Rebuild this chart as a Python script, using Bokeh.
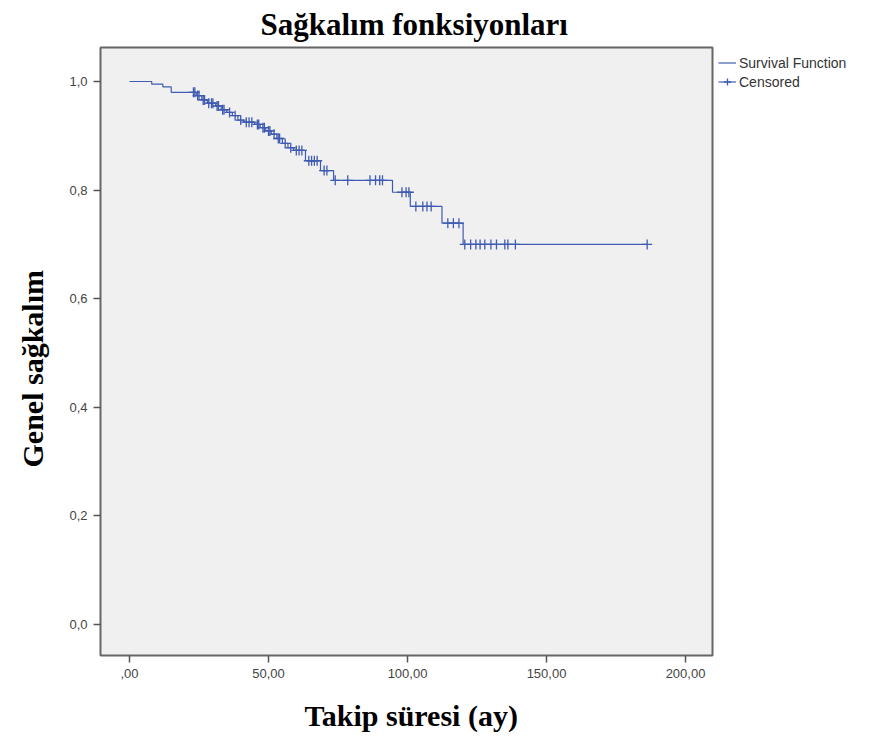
from bokeh.plotting import figure
from bokeh.models import Range1d, FixedTicker, Legend, LegendItem, Title
from bokeh.embed import file_html
from bokeh.resources import INLINE

# Kaplan-Meier event steps (time in months, survival after the step)
event_times = [8, 12, 15, 24, 26, 28, 31, 33, 35, 37, 39, 41, 45, 47, 49, 51,
               53, 55, 57, 59, 63.3, 68.7, 73.4, 94.6, 101, 112.4, 120]
survival = [0.995, 0.990, 0.980, 0.974, 0.966, 0.960, 0.955, 0.948, 0.943,
            0.937, 0.929, 0.925, 0.921, 0.915, 0.909, 0.903, 0.895, 0.886,
            0.878, 0.873, 0.854, 0.836, 0.818, 0.796, 0.770, 0.739, 0.700]

# censored observations (months)
censored_times = [23, 23.5, 24.5, 25, 26.5, 27, 28.5, 29.5, 30, 31.5, 32, 33.5,
                  34, 36, 38, 40, 42, 43, 44, 46, 46.5, 48, 48.5, 50, 50.5, 52,
                  53.5, 54, 56, 58, 60, 61, 62, 64.5, 65.5, 66.5, 67.5, 70, 71,
                  74, 78.5, 86.5, 88.5, 90, 91, 98, 99.5, 100.5, 103, 105.5,
                  107, 108.5, 114.5, 116.5, 118.5, 120.6, 122.7, 124.6, 126.1,
                  127.8, 130, 132, 135, 136.1, 138.8, 186.2]

x_ticks = [0, 50, 100, 150, 200]
x_tick_labels = [",00", "50,00", "100,00", "150,00", "200,00"]
y_ticks = [0.0, 0.2, 0.4, 0.6, 0.8, 1.0]
y_tick_labels = ["0,0", "0,2", "0,4", "0,6", "0,8", "1,0"]

title_text = "Sağkalım fonksiyonları"
x_label = "Takip süresi (ay)"
y_label = "Genel sağkalım"
legend_labels = ["Survival Function", "Censored"]

BLUE = "#3F5BB2"
SANS = "Liberation Sans"
SERIF = "Liberation Serif"


def surv_at(t):
    s = 1.0
    for et, sv in zip(event_times, survival):
        if et <= t:
            s = sv
    return s


step_x = [0] + event_times + [max(censored_times)]
step_y = [1.0] + survival + [survival[-1]]
cens_y = [surv_at(t) for t in censored_times]

p = figure(frame_width=612, frame_height=608, output_backend="svg",
           toolbar_location=None,
           x_range=Range1d(-10.43, 209.7), y_range=Range1d(-0.0571, 1.0626),
           min_border_left=100, min_border_right=160, min_border_top=47,
           min_border_bottom=92)

p.background_fill_color = "#F0F0F0"
p.border_fill_color = "white"
p.outline_line_color = "#666666"
p.outline_line_width = 2
p.grid.visible = False

step_r = p.step(step_x, step_y, mode="after", line_color=BLUE, line_width=1.2)
cens_r = p.scatter(censored_times, cens_y, marker="cross", size=10,
                   line_color=BLUE, line_width=1.3)

for ax in (p.xaxis[0], p.yaxis[0]):
    ax.axis_line_color = None
    ax.major_tick_line_color = "#555555"
    ax.major_tick_line_width = 1.5
    ax.major_tick_out = 7
    ax.major_tick_in = 0
    ax.minor_tick_line_color = None
    ax.major_label_text_font = SANS
    ax.major_label_text_font_size = "13px"
    ax.major_label_text_color = "#444444"
    ax.major_label_standoff = 6

p.xaxis[0].ticker = FixedTicker(ticks=x_ticks)
p.xaxis[0].major_label_overrides = dict(zip(x_ticks, x_tick_labels))
p.yaxis[0].ticker = FixedTicker(ticks=y_ticks)
p.yaxis[0].major_label_overrides = dict(zip(y_ticks, y_tick_labels))

p.title.text = title_text
p.title.text_font = SERIF
p.title.text_font_size = "31px"
p.title.text_font_style = "bold"
p.title.text_color = "black"
p.title.align = "left"
p.title.vertical_align = "top"
p.title.offset = 160
p.title.standoff = 8

xt = Title(text=x_label, align="left", offset=204, text_font=SERIF,
           text_font_size="30px", text_font_style="bold", text_color="black",
           vertical_align="bottom", standoff=32)
p.add_layout(xt, "below")
yt = Title(text=y_label, align="left", offset=188, text_font=SERIF,
           text_font_size="30px", text_font_style="bold", text_color="black",
           vertical_align="top", standoff=31)
p.add_layout(yt, "left")

legend = Legend(items=[LegendItem(label=legend_labels[0], renderers=[step_r]),
                       LegendItem(label=legend_labels[1], renderers=[step_r, cens_r])],
                location="top_left")
legend.margin = 6
legend.padding = 2
legend.spacing = 0
legend.label_height = 19
legend.glyph_height = 19
legend.glyph_width = 18
legend.label_standoff = 3
legend.label_text_font = SANS
legend.label_text_font_size = "14px"
legend.label_text_color = "#333333"
legend.border_line_color = None
legend.background_fill_alpha = 0
p.add_layout(legend, "right")

open("out.html", "w").write(file_html(p, INLINE))
